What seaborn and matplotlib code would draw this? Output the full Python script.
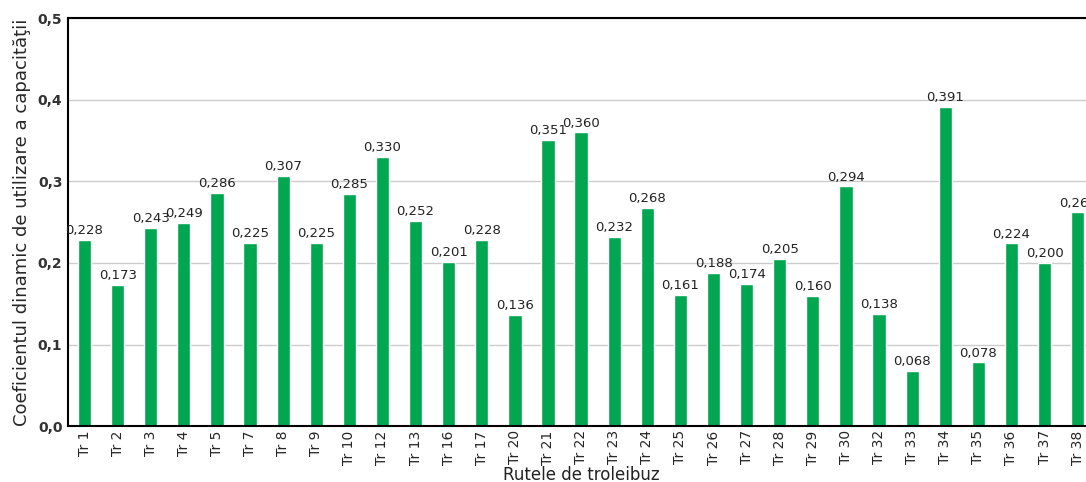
import matplotlib
matplotlib.use('Agg')
import matplotlib.pyplot as plt
import seaborn as sns
import pandas as pd

routes = ['Tr 1', 'Tr 2', 'Tr 3', 'Tr 4', 'Tr 5', 'Tr 7', 'Tr 8', 'Tr 9', 'Tr 10', 'Tr 12',
          'Tr 13', 'Tr 16', 'Tr 17', 'Tr 20', 'Tr 21', 'Tr 22', 'Tr 23', 'Tr 24', 'Tr 25', 'Tr 26',
          'Tr 27', 'Tr 28', 'Tr 29', 'Tr 30', 'Tr 32', 'Tr 33', 'Tr 34', 'Tr 35', 'Tr 36', 'Tr 37',
          'Tr 38']
values = [0.228, 0.173, 0.243, 0.249, 0.286, 0.225, 0.307, 0.225, 0.285, 0.330,
          0.252, 0.201, 0.228, 0.136, 0.351, 0.360, 0.232, 0.268, 0.161, 0.188,
          0.174, 0.205, 0.160, 0.294, 0.138, 0.068, 0.391, 0.078, 0.224, 0.200,
          0.262]
yticks = [0.0, 0.1, 0.2, 0.3, 0.4, 0.5]

df = pd.DataFrame({'route': routes, 'value': values})

sns.set_style('white')
fig = plt.figure(figsize=(10.86, 4.82), dpi=100)
ax = fig.add_axes([0.0626, 0.116, 0.945, 0.846])

sns.barplot(data=df, x='route', y='value', color='#00A650', saturation=1, width=0.4, ax=ax)

ax.set_xlim(-0.5, len(routes) - 0.5)
ax.set_ylim(0, 0.5)
ax.set_yticks(yticks)
ax.set_yticklabels([f'{t:.1f}'.replace('.', ',') for t in yticks],
                   fontsize=10, fontweight='bold', color='#333333')
ax.yaxis.grid(True, color='#cccccc', linewidth=1)
ax.set_axisbelow(True)

for side in ['left', 'bottom', 'top']:
    ax.spines[side].set_color('black')
    ax.spines[side].set_linewidth(1.5)
ax.spines['right'].set_visible(False)

ax.tick_params(axis='x', labelrotation=90, labelsize=10, length=0, pad=3)
ax.tick_params(axis='y', length=0, pad=4)

ax.bar_label(ax.containers[0], labels=[f'{v:.3f}'.replace('.', ',') for v in values],
             padding=2, fontsize=9.5, color='#222222')

ax.set_xlabel('Rutele de troleibuz', fontsize=12, labelpad=1, color='#222222')
ax.set_ylabel('Coeficientul dinamic de utilizare a capacităţii', fontsize=13, labelpad=5)

fig.savefig('out.png', dpi=100)
